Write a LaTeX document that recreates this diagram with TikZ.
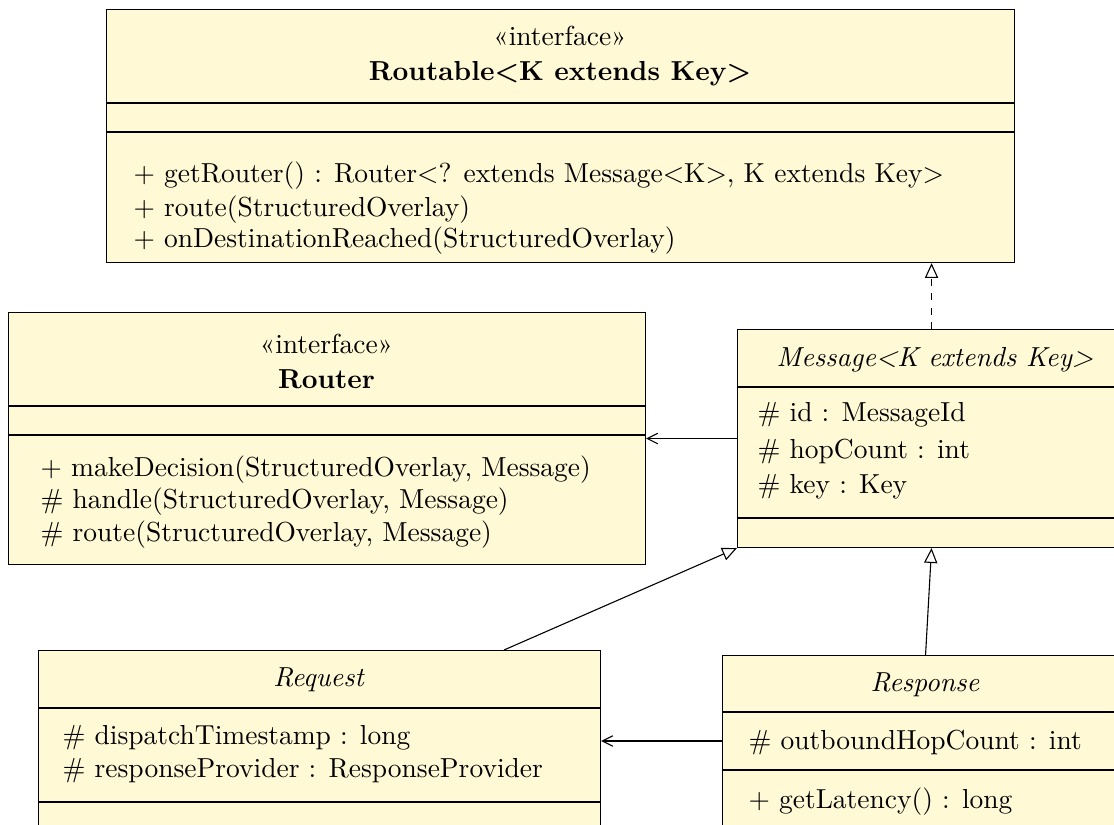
\documentclass[tikz,border=0pt]{standalone}
\usetikzlibrary{arrows.meta}
\definecolor{umlfill}{RGB}{255,249,214}
\begin{document}
\begin{tikzpicture}[x=0.3636pt,y=-0.3636pt,
  classbox/.style={draw=black, fill=umlfill, line width=0.4pt, inner sep=0pt, anchor=north west},
  lbl/.style={inner sep=0pt, anchor=base west},
  ctr/.style={inner sep=0pt, anchor=base},
  gen/.style={-{Triangle[open,length=5.4pt,width=4.8pt]}},
  assoc/.style={-{Straight Barb[length=3.8pt,width=3.8pt]}},
  real/.style={dashed, dash pattern=on 2.6pt off 2.6pt, -{Triangle[open,length=5.4pt,width=4.8pt]}}]
\useasboundingbox (0,0) rectangle (1114,825);
\clip (0,0) rectangle (1114,825);
% Routable
\node[classbox, minimum width=908*0.3636pt, minimum height=253*0.3636pt] (routable) at (106,9) {};
\draw (106,103) -- (1014,103) (106,132) -- (1014,132);
\node[ctr] (rt1) at (560,46) {«interface»};
\node[ctr] (rt2) at (560,81) {\textbf{Routable<K extends Key>}};
\node[lbl] (rm1) at (133,183) {+ getRouter() : Router<? extends Message<K>, K extends Key>};
\node[lbl] (rm2) at (133,216) {+ route(StructuredOverlay)};
\node[lbl] (rm3) at (133,248) {+ onDestinationReached(StructuredOverlay)};
% Router
\node[classbox, minimum width=637*0.3636pt, minimum height=252*0.3636pt] (router) at (8,312) {};
\draw (8,406) -- (645,406) (8,435) -- (645,435);
\node[ctr] (ro1) at (326.5,353) {«interface»};
\node[ctr] (ro2) at (326.5,388) {\textbf{Router}};
\node[lbl] (om1) at (40,476) {+ makeDecision(StructuredOverlay, Message)};
\node[lbl] (om2) at (40,508) {\# handle(StructuredOverlay, Message)};
\node[lbl] (om3) at (40,541) {\# route(StructuredOverlay, Message)};
% Message
\node[classbox, minimum width=388*0.3636pt, minimum height=218*0.3636pt] (message) at (737,329) {};
\draw (737,387) -- (1125,387) (737,518) -- (1125,518);
\node[ctr] (mt) at (935,366) {\textit{Message<K extends Key>}};
\node[lbl] (ma1) at (757,421) {\# id : MessageId};
\node[lbl] (ma2) at (757,458) {\# hopCount : int};
\node[lbl] (ma3) at (757,493) {\# key : Key};
% Request
\node[classbox, minimum width=562*0.3636pt, minimum height=220*0.3636pt] (request) at (38,650) {};
\draw (38,708) -- (600,708) (38,802) -- (600,802);
\node[ctr] (qt) at (319,686) {\textit{Request}};
\node[lbl] (qa1) at (62,744) {\# dispatchTimestamp : long};
\node[lbl] (qa2) at (62,777) {\# responseProvider : ResponseProvider};
% Response
\node[classbox, minimum width=406*0.3636pt, minimum height=215*0.3636pt] (response) at (722,655) {};
\draw (722,712) -- (1128,712) (722,770) -- (1128,770);
\node[ctr] (st) at (925,691) {\textit{Response}};
\node[lbl] (sa1) at (748,749) {\# outboundHopCount : int};
\node[lbl] (sm1) at (748,808) {+ getLatency() : long};
% connectors
\draw[real] (message.north) -- (message.north |- routable.south);
\draw[assoc] (message.west) -- (router.east);
\draw[gen] (request.north -| 504,0) -- (message.south west);
\draw[gen] (response.north) -- (message.south);
\coordinate (ra) at (0,741);
\draw[assoc] (ra -| response.west) -- (ra -| request.east);
\end{tikzpicture}
\end{document}
